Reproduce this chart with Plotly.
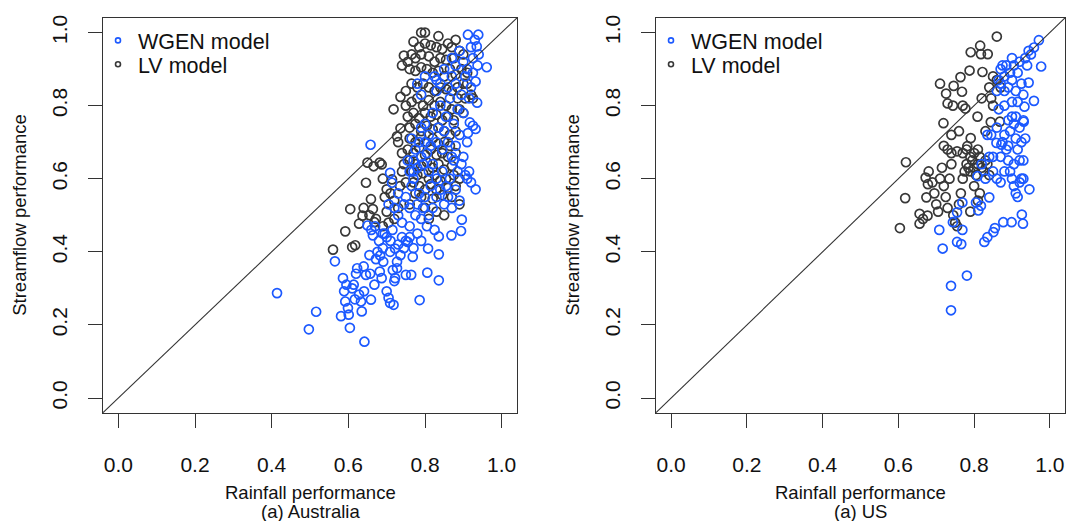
import plotly.graph_objects as go

# ---------------- data (rainfall performance, streamflow performance) ----------------
aus_wgen = [
    (0.414, 0.287), (0.497, 0.188), (0.516, 0.236), (0.642, 0.154), (0.604, 0.192), (0.581, 0.224),
    (0.565, 0.374), (0.658, 0.693), (0.786, 0.268), (0.836, 0.322), (0.806, 0.343), (0.836, 0.393),
    (0.808, 0.409), (0.836, 0.442), (0.869, 0.445), (0.894, 0.457), (0.896, 0.488), (0.932, 0.571),
    (0.586, 0.328), (0.589, 0.292), (0.592, 0.264), (0.599, 0.246), (0.601, 0.228), (0.610, 0.300),
    (0.614, 0.310), (0.623, 0.355), (0.628, 0.283), (0.633, 0.264), (0.635, 0.237), (0.641, 0.292),
    (0.646, 0.337), (0.659, 0.269), (0.655, 0.391), (0.650, 0.472), (0.664, 0.445), (0.668, 0.310),
    (0.682, 0.346), (0.687, 0.328), (0.691, 0.373), (0.700, 0.292), (0.705, 0.274), (0.709, 0.260),
    (0.718, 0.255), (0.722, 0.328), (0.727, 0.355), (0.727, 0.373), (0.709, 0.400), (0.722, 0.409),
    (0.736, 0.391), (0.750, 0.337), (0.764, 0.337), (0.768, 0.386), (0.755, 0.427),
    (0.595, 0.310), (0.617, 0.270), (0.620, 0.340), (0.640, 0.360), (0.657, 0.340), (0.672, 0.380),
    (0.676, 0.400), (0.660, 0.460), (0.680, 0.430), (0.690, 0.410), (0.695, 0.450), (0.700, 0.440),
    (0.710, 0.430), (0.715, 0.460), (0.720, 0.320), (0.716, 0.350), (0.730, 0.420), (0.740, 0.440),
    (0.745, 0.410), (0.750, 0.430), (0.760, 0.440), (0.770, 0.410), (0.780, 0.450), (0.790, 0.430),
    (0.760, 0.470), (0.740, 0.480), (0.730, 0.500), (0.720, 0.520), (0.705, 0.530), (0.690, 0.450),
    (0.683, 0.390), (0.670, 0.470),
    (0.709, 0.616), (0.714, 0.589), (0.730, 0.560), (0.745, 0.530), (0.750, 0.550), (0.760, 0.520),
    (0.765, 0.580), (0.770, 0.600), (0.775, 0.500), (0.780, 0.530), (0.785, 0.560), (0.790, 0.490),
    (0.795, 0.520), (0.800, 0.550), (0.805, 0.470), (0.810, 0.500), (0.815, 0.580), (0.820, 0.520),
    (0.825, 0.460), (0.830, 0.550), (0.760, 0.620), (0.770, 0.650), (0.775, 0.680), (0.780, 0.630),
    (0.790, 0.660), (0.800, 0.700), (0.810, 0.620), (0.820, 0.640), (0.830, 0.600), (0.840, 0.570),
    (0.845, 0.620), (0.850, 0.530), (0.855, 0.580), (0.860, 0.550), (0.865, 0.600), (0.870, 0.520),
    (0.875, 0.650), (0.880, 0.570), (0.885, 0.620), (0.890, 0.540),
    (0.800, 0.750), (0.810, 0.720), (0.820, 0.780), (0.830, 0.700), (0.835, 0.740), (0.840, 0.800),
    (0.845, 0.680), (0.850, 0.730), (0.855, 0.770), (0.860, 0.700), (0.865, 0.820), (0.870, 0.660),
    (0.875, 0.750), (0.880, 0.690), (0.885, 0.790), (0.890, 0.720), (0.895, 0.640), (0.900, 0.660),
    (0.905, 0.610), (0.910, 0.600), (0.915, 0.620), (0.920, 0.590), (0.910, 0.700), (0.917, 0.754),
    (0.912, 0.725), (0.932, 0.736), (0.925, 0.745), (0.900, 0.780), (0.895, 0.830), (0.880, 0.860),
    (0.870, 0.880), (0.860, 0.850), (0.850, 0.900), (0.840, 0.860), (0.830, 0.840), (0.825, 0.880),
    (0.815, 0.690), (0.805, 0.670), (0.795, 0.640), (0.785, 0.700), (0.790, 0.740), (0.770, 0.620),
    (0.755, 0.650), (0.765, 0.710),
    (0.961, 0.905), (0.936, 0.808), (0.932, 0.866), (0.937, 0.910), (0.912, 0.994), (0.939, 0.994),
    (0.935, 0.962), (0.920, 0.960), (0.930, 0.980), (0.925, 0.930), (0.910, 0.900), (0.905, 0.880),
    (0.920, 0.850), (0.900, 0.920), (0.915, 0.820), (0.880, 0.910), (0.890, 0.950), (0.870, 0.930),
    (0.925, 0.890), (0.940, 0.940), (0.780, 0.860), (0.800, 0.880), (0.830, 0.870), (0.790, 0.830),
]

aus_lv = [
    (0.560, 0.406), (0.592, 0.456), (0.605, 0.517), (0.610, 0.413), (0.618, 0.418), (0.628, 0.477),
    (0.637, 0.499), (0.646, 0.589), (0.650, 0.644), (0.659, 0.544), (0.666, 0.634), (0.682, 0.644),
    (0.687, 0.639), (0.664, 0.517), (0.668, 0.481), (0.718, 0.790), (0.714, 0.598), (0.700, 0.571),
    (0.695, 0.550), (0.727, 0.716), (0.736, 0.738), (0.640, 0.520), (0.655, 0.500), (0.672, 0.490),
    (0.690, 0.600), (0.700, 0.510), (0.710, 0.560), (0.720, 0.540), (0.730, 0.520), (0.735, 0.580),
    (0.740, 0.620), (0.745, 0.640), (0.690, 0.470), (0.705, 0.480), (0.720, 0.490),
    (0.790, 1.000), (0.800, 1.000), (0.835, 0.990), (0.770, 0.975), (0.785, 0.960), (0.800, 0.970),
    (0.815, 0.965), (0.830, 0.960), (0.845, 0.955), (0.860, 0.970), (0.870, 0.960), (0.880, 0.980),
    (0.745, 0.937), (0.740, 0.910), (0.755, 0.920), (0.765, 0.940), (0.775, 0.930), (0.790, 0.940),
    (0.810, 0.935), (0.825, 0.920), (0.840, 0.930), (0.855, 0.925), (0.875, 0.930), (0.890, 0.950),
    (0.900, 0.940), (0.760, 0.900), (0.775, 0.895), (0.790, 0.905), (0.805, 0.900), (0.820, 0.890),
    (0.835, 0.895), (0.850, 0.880), (0.865, 0.900), (0.880, 0.885), (0.895, 0.900), (0.910, 0.890),
    (0.920, 0.830), (0.925, 0.820), (0.736, 0.824), (0.750, 0.840), (0.765, 0.860), (0.780, 0.850),
    (0.795, 0.860), (0.810, 0.850), (0.825, 0.840), (0.840, 0.850), (0.855, 0.845), (0.870, 0.840),
    (0.885, 0.850), (0.750, 0.800), (0.765, 0.810), (0.780, 0.820), (0.795, 0.800), (0.810, 0.815),
    (0.825, 0.800), (0.840, 0.810), (0.855, 0.800), (0.870, 0.790), (0.890, 0.790), (0.900, 0.780),
    (0.755, 0.770), (0.770, 0.780), (0.785, 0.765), (0.800, 0.780), (0.815, 0.770), (0.830, 0.775),
    (0.845, 0.760), (0.860, 0.770), (0.875, 0.760), (0.760, 0.740), (0.775, 0.750), (0.790, 0.730),
    (0.805, 0.745), (0.820, 0.735), (0.835, 0.740), (0.850, 0.730), (0.865, 0.720), (0.880, 0.730),
    (0.760, 0.710), (0.775, 0.700), (0.790, 0.715), (0.805, 0.700), (0.820, 0.710), (0.835, 0.695),
    (0.850, 0.700), (0.865, 0.690), (0.755, 0.680), (0.770, 0.670), (0.785, 0.685), (0.800, 0.665),
    (0.815, 0.680), (0.830, 0.665), (0.845, 0.670), (0.860, 0.660), (0.880, 0.670), (0.760, 0.650),
    (0.775, 0.640), (0.790, 0.635), (0.805, 0.645), (0.820, 0.630), (0.835, 0.640), (0.850, 0.625),
    (0.870, 0.635), (0.765, 0.620), (0.780, 0.610), (0.795, 0.615), (0.810, 0.600), (0.825, 0.610),
    (0.840, 0.595), (0.855, 0.600), (0.875, 0.610), (0.890, 0.600), (0.770, 0.590), (0.785, 0.580),
    (0.800, 0.570), (0.815, 0.585), (0.830, 0.570), (0.860, 0.575), (0.880, 0.580), (0.775, 0.560),
    (0.790, 0.550), (0.820, 0.545), (0.845, 0.555), (0.870, 0.550), (0.890, 0.530), (0.800, 0.520),
    (0.830, 0.510), (0.850, 0.500), (0.810, 0.490), (0.760, 0.530), (0.750, 0.590), (0.740, 0.670),
    (0.730, 0.700), (0.905, 0.820), (0.910, 0.860), (0.900, 0.860), (0.885, 0.820),
]

us_wgen = [
    (0.739, 0.240), (0.739, 0.307), (0.781, 0.335), (0.717, 0.409), (0.708, 0.460), (0.755, 0.427),
    (0.766, 0.421), (0.744, 0.481), (0.755, 0.508), (0.769, 0.460), (0.769, 0.535), (0.827, 0.427),
    (0.835, 0.440), (0.851, 0.454), (0.855, 0.465), (0.877, 0.481), (0.899, 0.481), (0.926, 0.502),
    (0.929, 0.477), (0.805, 0.535), (0.811, 0.513), (0.818, 0.526), (0.840, 0.549), (0.835, 0.720),
    (0.859, 0.698), (0.872, 0.693), (0.809, 0.607), (0.830, 0.600), (0.946, 0.571), (0.977, 0.907),
    (0.971, 0.979), (0.958, 0.959), (0.944, 0.950), (0.944, 0.863), (0.958, 0.813), (0.933, 0.797),
    (0.931, 0.756),
    (0.860, 0.840), (0.865, 0.870), (0.870, 0.900), (0.875, 0.910), (0.880, 0.880), (0.885, 0.910),
    (0.890, 0.850), (0.895, 0.890), (0.900, 0.870), (0.905, 0.910), (0.910, 0.840), (0.915, 0.890),
    (0.920, 0.920), (0.925, 0.860), (0.930, 0.830), (0.935, 0.930), (0.940, 0.910), (0.950, 0.940),
    (0.900, 0.930), (0.880, 0.840), (0.870, 0.860), (0.915, 0.810),
    (0.870, 0.660), (0.875, 0.700), (0.880, 0.720), (0.885, 0.680), (0.890, 0.760), (0.895, 0.730),
    (0.900, 0.770), (0.905, 0.750), (0.910, 0.710), (0.915, 0.680), (0.920, 0.650), (0.925, 0.700),
    (0.930, 0.760), (0.890, 0.650), (0.895, 0.620), (0.900, 0.600), (0.905, 0.580), (0.910, 0.560),
    (0.915, 0.550), (0.920, 0.590), (0.925, 0.600), (0.930, 0.650), (0.880, 0.620), (0.870, 0.590),
    (0.860, 0.600), (0.850, 0.660), (0.845, 0.720), (0.860, 0.740), (0.865, 0.790), (0.880, 0.800),
    (0.900, 0.810), (0.910, 0.770), (0.920, 0.740), (0.935, 0.710), (0.930, 0.600), (0.905, 0.640),
    (0.890, 0.690), (0.850, 0.620), (0.820, 0.640), (0.840, 0.660),
]

us_lv = [
    (0.604, 0.465), (0.618, 0.547), (0.620, 0.645), (0.656, 0.504), (0.656, 0.477), (0.665, 0.490),
    (0.677, 0.499), (0.674, 0.549), (0.678, 0.585), (0.672, 0.603), (0.680, 0.620), (0.690, 0.590),
    (0.695, 0.560), (0.700, 0.530), (0.705, 0.510), (0.710, 0.600), (0.715, 0.630), (0.720, 0.580),
    (0.725, 0.550), (0.730, 0.520), (0.735, 0.600), (0.740, 0.640), (0.745, 0.500), (0.750, 0.480),
    (0.755, 0.470), (0.760, 0.530), (0.765, 0.560), (0.770, 0.600), (0.775, 0.620), (0.780, 0.640),
    (0.785, 0.630), (0.790, 0.620), (0.795, 0.650), (0.800, 0.630), (0.805, 0.610), (0.810, 0.640),
    (0.815, 0.660), (0.820, 0.630), (0.825, 0.620), (0.830, 0.650), (0.835, 0.640), (0.840, 0.610),
    (0.790, 0.660), (0.800, 0.670), (0.810, 0.680), (0.780, 0.680), (0.770, 0.670), (0.800, 0.580),
    (0.810, 0.540), (0.790, 0.510), (0.815, 0.560),
    (0.710, 0.860), (0.726, 0.833), (0.730, 0.806), (0.744, 0.800), (0.746, 0.854), (0.764, 0.878),
    (0.768, 0.838), (0.770, 0.800), (0.788, 0.896), (0.777, 0.792), (0.719, 0.752), (0.791, 0.946),
    (0.816, 0.964), (0.818, 0.941), (0.836, 0.941), (0.860, 0.989), (0.822, 0.892), (0.840, 0.850),
    (0.845, 0.820), (0.850, 0.800), (0.820, 0.820), (0.809, 0.770), (0.791, 0.711), (0.760, 0.730),
    (0.740, 0.720), (0.730, 0.680), (0.755, 0.675), (0.782, 0.689), (0.844, 0.755), (0.868, 0.756),
    (0.830, 0.730), (0.860, 0.870), (0.850, 0.880), (0.870, 0.850), (0.740, 0.670), (0.720, 0.690),
]

x_ticks = [0.0, 0.2, 0.4, 0.6, 0.8, 1.0]
tick_text = ["0.0", "0.2", "0.4", "0.6", "0.8", "1.0"]
series_names = ["WGEN model", "LV model"]
panel_titles = ["(a) Australia", "(a) US"]
x_title = "Rainfall performance"
y_title = "Streamflow performance"

BLUE = "#1c59ff"
DARK = "#383838"
AX = "#333333"
W, H = 1069, 521
FONT = "Liberation Sans, Arial"

# plot-box pixel positions
left_box = (103, 517)
right_box = (656, 1065)
top_px, bot_px = 15, 412
ydom = [1 - bot_px / H, 1 - top_px / H]

fig = go.Figure()

panels = [
    dict(lv=aus_lv, wgen=aus_wgen, xa="x", ya="y", legends=("legend", "legend2"), box=left_box),
    dict(lv=us_lv, wgen=us_wgen, xa="x2", ya="y2", legends=("legend3", "legend4"), box=right_box),
]

for p in panels:
    # legend-only entries (small symbols, as in the reference legend)
    fig.add_trace(go.Scatter(x=[None], y=[None], mode="markers", name=series_names[0],
                             marker=dict(symbol="circle-open", size=5, color=BLUE, line=dict(width=1.6)),
                             xaxis=p["xa"], yaxis=p["ya"], legend=p["legends"][0]))
    fig.add_trace(go.Scatter(x=[None], y=[None], mode="markers", name=series_names[1],
                             marker=dict(symbol="circle-open", size=5, color=DARK, line=dict(width=1.6)),
                             xaxis=p["xa"], yaxis=p["ya"], legend=p["legends"][1]))
    fig.add_trace(go.Scatter(x=[v[0] for v in p["lv"]], y=[v[1] for v in p["lv"]], mode="markers",
                             marker=dict(symbol="circle-open", size=9, color=DARK, line=dict(width=1.7)),
                             xaxis=p["xa"], yaxis=p["ya"], showlegend=False, hoverinfo="x+y"))
    fig.add_trace(go.Scatter(x=[v[0] for v in p["wgen"]], y=[v[1] for v in p["wgen"]], mode="markers",
                             marker=dict(symbol="circle-open", size=9, color=BLUE, line=dict(width=1.7)),
                             xaxis=p["xa"], yaxis=p["ya"], showlegend=False, hoverinfo="x+y"))

axis_common = dict(range=[-0.04, 1.04], tickvals=x_ticks, ticktext=tick_text, showgrid=False,
                   zeroline=False, showline=True, linecolor=AX, linewidth=1.4, mirror=True,
                   ticks="outside", ticklen=14, tickwidth=1.4, tickcolor=AX,
                   tickfont=dict(family=FONT, size=21, color="#111"))

legend_font = dict(family=FONT, size=21.5, color="#111")


def legend_at(px_x, px_top):
    return dict(x=px_x / W, y=1 - px_top / H, xanchor="left", yanchor="top",
                bgcolor="rgba(0,0,0,0)", itemwidth=30, font=legend_font)


fig.update_layout(
    xaxis=dict(domain=[left_box[0] / W, left_box[1] / W], anchor="y", ticklabelstandoff=19, **axis_common),
    yaxis=dict(domain=ydom, anchor="x", tickangle=-90, ticklabelstandoff=12, **axis_common),
    xaxis2=dict(domain=[right_box[0] / W, right_box[1] / W], anchor="y2", ticklabelstandoff=19, **axis_common),
    yaxis2=dict(domain=ydom, anchor="x2", tickangle=-90, ticklabelstandoff=12, **axis_common),
    width=W, height=H, autosize=False,
    margin=dict(l=0, r=0, t=0, b=0),
    paper_bgcolor="white", plot_bgcolor="white",
    legend=legend_at(98, 17),
    legend2=legend_at(98, 41),
    legend3=legend_at(651, 17),
    legend4=legend_at(651, 41),
)

# 1:1 line spanning each plot box
for xa, ya in [("x", "y"), ("x2", "y2")]:
    fig.add_shape(type="line", xref=f"{xa} domain", yref=f"{ya} domain", x0=0, y0=0, x1=1, y1=1,
                  line=dict(color=AX, width=1.1))

# axis titles and panel captions
lab_font = dict(family=FONT, size=18.5, color="#111")
for (bx0, bx1), title, ytx in [(left_box, panel_titles[0], 20), (right_box, panel_titles[1], 573)]:
    cx = (bx0 + bx1) / 2 / W
    fig.add_annotation(x=cx, y=1 - 492 / H, xref="paper", yref="paper", text=x_title,
                       showarrow=False, font=lab_font, xanchor="center", yanchor="middle")
    fig.add_annotation(x=cx, y=1 - 511 / H, xref="paper", yref="paper", text=title,
                       showarrow=False, font=lab_font, xanchor="center", yanchor="middle")
    fig.add_annotation(x=ytx / W, y=1 - 213 / H, xref="paper", yref="paper", text=y_title,
                       showarrow=False, font=lab_font, textangle=-90, xanchor="center", yanchor="middle")

fig.write_html("out.html")
